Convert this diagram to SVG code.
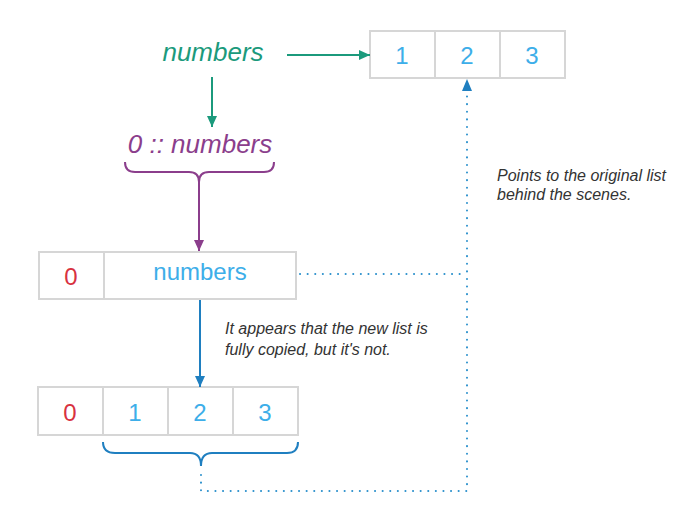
<svg xmlns="http://www.w3.org/2000/svg" width="700" height="528" viewBox="0 0 700 528">
<style>
.cell{fill:#fff;stroke:#d6d6d6;stroke-width:2}
.num{font-family:"Liberation Sans",Arial,sans-serif;font-size:24px;text-anchor:middle;fill:#3daee9}
.zero{fill:#d8323f}
.note{font-family:"Liberation Sans",Arial,sans-serif;font-size:16px;font-style:italic;fill:#333}
.dot{fill:none;stroke:#2b90cc;stroke-width:2;stroke-dasharray:0.1 7.5;stroke-linecap:round}
</style>
<defs>
<marker id="ag" markerWidth="12" markerHeight="10" refX="11" refY="5" orient="auto" markerUnits="userSpaceOnUse"><path d="M0,0 L11,5 L0,10 Z" fill="#1b9a7c"/></marker>
<marker id="ap" markerWidth="12" markerHeight="10" refX="11" refY="5" orient="auto" markerUnits="userSpaceOnUse"><path d="M0,0 L11,5 L0,10 Z" fill="#8b3e8c"/></marker>
<marker id="ab" markerWidth="12" markerHeight="10" refX="11" refY="5" orient="auto" markerUnits="userSpaceOnUse"><path d="M0,0 L11,5 L0,10 Z" fill="#1f7fc0"/></marker>
</defs>

<g id="top-list">
<rect class="cell" x="370" y="31" width="65" height="47"/>
<rect class="cell" x="435" y="31" width="65" height="47"/>
<rect class="cell" x="500" y="31" width="65" height="47"/>
<text class="num" x="402" y="64">1</text>
<text class="num" x="467" y="64">2</text>
<text class="num" x="532" y="64">3</text>
</g>

<g id="numbers-label">
<text x="213" y="61" font-family="'Liberation Sans',Arial,sans-serif" font-size="26" font-style="italic" fill="#1b9a7c" text-anchor="middle">numbers</text>
</g>

<g id="cons-label">
<text x="200" y="153" font-family="'Liberation Sans',Arial,sans-serif" font-size="26" font-style="italic" fill="#8b3e8c" text-anchor="middle">0 :: numbers</text>
<path d="M125,162 Q125,172 135,172 L189,172 Q199,172 199,182 Q199,172 209,172 L264,172 Q274,172 274,162" fill="none" stroke="#8b3e8c" stroke-width="2"/>
</g>

<g id="mid-list">
<rect class="cell" x="39" y="252" width="65" height="47"/>
<rect class="cell" x="104" y="252" width="192" height="47"/>
<text class="num zero" x="71" y="285">0</text>
<text class="num" x="200" y="280" font-size="25">numbers</text>
</g>

<g id="bottom-list">
<rect class="cell" x="38" y="387" width="65" height="48"/>
<rect class="cell" x="103" y="387" width="65" height="48"/>
<rect class="cell" x="168" y="387" width="65" height="48"/>
<rect class="cell" x="233" y="387" width="65" height="48"/>
<text class="num zero" x="70" y="421">0</text>
<text class="num" x="135" y="421">1</text>
<text class="num" x="200" y="421">2</text>
<text class="num" x="265" y="421">3</text>
<path d="M103,442 Q103,453 115,453 L190,453 Q201,453 201,466 Q201,453 212,453 L287,453 Q298,453 298,442" fill="none" stroke="#1f7fc0" stroke-width="2"/>
</g>

<g id="note-copied">
<text class="note" x="225" y="334">It appears that the new list is</text>
<text class="note" x="225" y="355">fully copied, but it's not.</text>
</g>

<g id="note-original">
<text class="note" x="497" y="181">Points to the original list</text>
<text class="note" x="497" y="200">behind the scenes.</text>
</g>

<g id="connectors">
<line x1="287" y1="55" x2="370" y2="55" stroke="#1b9a7c" stroke-width="2" marker-end="url(#ag)"/>
<line x1="212" y1="77" x2="212" y2="127" stroke="#1b9a7c" stroke-width="2" marker-end="url(#ag)"/>
<line x1="199" y1="182" x2="199" y2="251" stroke="#8b3e8c" stroke-width="2" marker-end="url(#ap)"/>
<line x1="200" y1="300" x2="200" y2="387" stroke="#1f7fc0" stroke-width="2" marker-end="url(#ab)"/>
<path class="dot" d="M201,475 L201,491 L467,491 L467,92"/>
<path class="dot" d="M300,274 L467,274"/>
<path d="M462,91 L467,79 L472,91 Z" fill="#1f7fc0"/>
</g>
</svg>
